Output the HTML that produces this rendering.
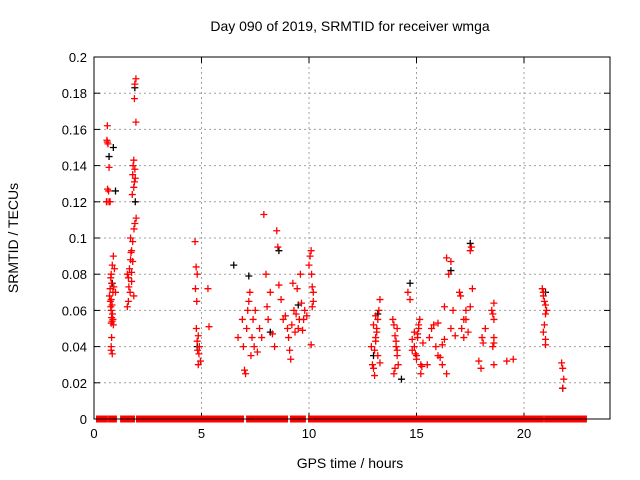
<!DOCTYPE html>
<html><head><meta charset="utf-8"><style>
body{margin:0;background:#fff}
svg{display:block;font-family:"Liberation Sans",sans-serif}
</style></head><body>
<svg id="chart" width="640" height="480" viewBox="0 0 640 480">
<text x="350" y="31" font-size="14" text-anchor="middle">Day 090 of 2019, SRMTID for receiver wmga</text>
<text transform="translate(18,238) rotate(-90)" font-size="14" text-anchor="middle">SRMTID / TECUs</text>
<text x="350" y="468" font-size="14" text-anchor="middle">GPS time / hours</text>
<g id="grid"></g><g id="axes"></g><g id="marks"></g>
<rect x="94" y="57" width="516" height="362" fill="none" stroke="#000" stroke-width="1"/>
</svg>
<script>
const xTicks=[0,5,10,15,20];
const yTicks=[0,0.02,0.04,0.06,0.08,0.1,0.12,0.14,0.16,0.18,0.2];
const yTickLabels=["0","0.02","0.04","0.06","0.08","0.1","0.12","0.14","0.16","0.18","0.2"];
const zeroSegments=[[0.14,0.6],[0.7,1.02],[1.26,1.86],[2.0,6.93],[7.12,8.98],[9.16,9.4],[9.49,9.81],[10.0,13.12],[13.16,13.21],[13.26,13.35],[13.4,13.72],[13.77,13.86],[13.9,14.93],[15.02,15.07],[15.16,15.63],[15.72,16.56],[16.6,17.21],[17.3,18.56],[18.65,19.16],[19.2,20.88],[20.98,22.88]];
const redHours=[0.62,0.6,0.65,0.7,0.63,0.68,0.6,0.75,0.58,0.62,0.9,0.85,0.8,0.78,0.82,0.75,0.88,0.72,0.8,0.76,0.84,0.78,0.8,0.86,0.82,0.88,0.84,0.8,0.9,0.82,0.8,0.8,0.85,0.95,1.0,0.92,0.7,
1.95,1.9,1.88,1.95,1.85,1.82,1.9,1.8,1.92,1.88,1.85,1.78,1.96,1.9,1.86,1.7,1.8,1.75,1.72,1.7,1.8,1.65,1.75,1.55,1.6,1.75,1.62,1.68,1.85,1.6,1.55,
4.7,4.75,4.8,4.72,4.78,4.76,4.85,4.8,4.9,4.82,4.88,4.95,4.85,5.3,5.35,
6.7,6.9,6.95,7.0,7.05,7.1,7.15,7.2,7.25,7.3,7.35,7.4,7.45,7.5,7.6,7.7,7.8,7.9,8.0,8.05,8.1,8.2,8.3,8.4,8.5,8.55,8.6,8.7,8.8,8.9,9.0,9.05,9.1,9.15,9.2,9.25,9.3,9.35,9.4,9.45,9.5,9.55,9.6,9.65,9.7,9.75,9.8,9.9,10.0,10.05,10.1,10.12,10.15,10.2,10.1,10.15,10.2,
12.9,12.95,13.0,13.05,13.1,13.15,13.2,13.25,13.3,13.0,13.1,13.2,13.15,13.1,13.05,13.3,
13.9,13.95,14.0,14.05,14.1,14.15,14.0,14.1,14.05,13.95,14.1,
14.6,14.7,14.8,14.9,14.95,15.0,15.05,15.1,15.15,15.2,15.25,15.3,14.9,15.0,15.1,15.2,14.8,15.05,
15.5,15.6,15.7,15.8,15.9,16.0,16.1,16.2,16.3,16.4,16.5,16.6,16.7,16.8,16.0,16.2,16.4,16.6,16.3,
17.0,17.05,17.1,17.2,17.3,17.4,17.5,17.55,17.6,17.2,17.3,17.5,
17.9,18.0,18.05,18.1,18.2,18.5,18.55,18.6,18.6,18.55,18.6,18.6,18.6,19.2,19.5,
20.85,20.9,20.95,21.0,21.05,21.0,20.95,20.9,21.0,21.0,20.9,
21.75,21.8,21.85,21.8];
const redValues=[0.162,0.154,0.152,0.139,0.127,0.126,0.12,0.12,0.12,0.153,0.09,0.085,0.08,0.078,0.075,0.072,0.07,0.068,0.066,0.065,0.063,0.062,0.06,0.058,0.056,0.055,0.054,0.053,0.052,0.045,0.04,0.038,0.036,0.083,0.07,0.073,0.12,
0.188,0.185,0.177,0.164,0.143,0.14,0.138,0.135,0.133,0.131,0.128,0.124,0.111,0.108,0.105,0.1,0.098,0.093,0.092,0.088,0.087,0.083,0.081,0.08,0.078,0.076,0.073,0.07,0.068,0.065,0.062,
0.098,0.084,0.08,0.072,0.065,0.05,0.046,0.043,0.04,0.038,0.036,0.032,0.03,0.072,0.051,
0.045,0.055,0.04,0.027,0.025,0.05,0.06,0.065,0.07,0.035,0.045,0.055,0.04,0.06,0.037,0.05,0.045,0.113,0.08,0.062,0.055,0.07,0.047,0.04,0.104,0.095,0.074,0.066,0.055,0.057,0.05,0.045,0.038,0.033,0.052,0.075,0.06,0.048,0.058,0.072,0.05,0.055,0.08,0.064,0.049,0.055,0.06,0.057,0.085,0.09,0.093,0.08,0.062,0.07,0.041,0.073,0.065,
0.04,0.03,0.028,0.024,0.045,0.05,0.055,0.06,0.066,0.052,0.043,0.035,0.048,0.057,0.038,0.031,
0.055,0.052,0.046,0.04,0.035,0.03,0.028,0.05,0.043,0.025,0.038,
0.07,0.066,0.044,0.04,0.036,0.033,0.045,0.05,0.055,0.03,0.029,0.042,0.048,0.035,0.052,0.025,0.038,0.047,
0.03,0.045,0.05,0.052,0.04,0.035,0.034,0.03,0.062,0.089,0.08,0.087,0.06,0.046,0.053,0.041,0.025,0.05,0.044,
0.07,0.068,0.05,0.055,0.06,0.048,0.093,0.095,0.072,0.045,0.055,0.062,
0.032,0.028,0.045,0.042,0.05,0.06,0.058,0.064,0.055,0.04,0.045,0.03,0.042,0.032,0.033,
0.072,0.07,0.065,0.063,0.06,0.058,0.052,0.048,0.044,0.041,0.068,
0.031,0.028,0.022,0.017];
const blackHours=[0.7,0.9,1.0,1.9,1.92,0.85,6.5,7.2,8.2,8.6,9.5,13.2,14.3,14.7,16.6,17.5,21.8,21.0,4.8,13.0];
const blackValues=[0.145,0.15,0.126,0.183,0.12,0.075,0.085,0.079,0.048,0.093,0.063,0.058,0.022,0.075,0.082,0.097,0.017,0.07,0.04,0.035];

const NS='http://www.w3.org/2000/svg';
const X0=94,X1=610,Y0=419,Y1=57,XMAX=24,YMAX=0.2;
function sx(h){return X0+h/XMAX*(X1-X0);}
function sy(v){return Y0-v/YMAX*(Y0-Y1);}
function mk(tag,attrs,parent){const e=document.createElementNS(NS,tag);for(const k in attrs)e.setAttribute(k,attrs[k]);parent.appendChild(e);return e;}
const grid=document.getElementById('grid'),axes=document.getElementById('axes'),marks=document.getElementById('marks');
xTicks.forEach(t=>{
 const x=sx(t);
 if(t>0){const g=mk('line',{x1:x,x2:x,y1:Y1,y2:Y0,stroke:'#a0a0a0','stroke-dasharray':'2,3'},grid);
 
 }
 mk('line',{x1:x,x2:x,y1:Y0,y2:Y0-6,stroke:'#000'},axes);
 mk('line',{x1:x,x2:x,y1:Y1,y2:Y1+6,stroke:'#000'},axes);
 const l=mk('text',{x:x,y:Y0+19,'font-size':13,'text-anchor':'middle'},axes);l.textContent=t;
 
 
});
yTicks.forEach((t,i)=>{
 const y=sy(t);
 if(t>0&&t<YMAX){const g=mk('line',{x1:X0,x2:X1,y1:y,y2:y,stroke:'#a0a0a0','stroke-dasharray':'2,3'},grid);
 
 }
 mk('line',{x1:X0,x2:X0+6,y1:y,y2:y,stroke:'#000'},axes);
 mk('line',{x1:X1,x2:X1-6,y1:y,y2:y,stroke:'#000'},axes);
 const l=mk('text',{x:X0-7,y:y+5,'font-size':13,'text-anchor':'end'},axes);l.textContent=yTickLabels[i];
 
 
});
zeroSegments.forEach(s=>{
 const r=mk('rect',{x:sx(s[0])-1,y:sy(0)-3.5,width:sx(s[1])-sx(s[0])+2,height:7,fill:'#ff0000'},marks);
 
 
});
function plus(h,v,c,name){
 const x=sx(h),y=sy(v);
 const p=mk('path',{d:`M${x-3.5},${y}h7M${x},${y-3.5}v7`,stroke:c,'stroke-width':1.3,fill:'none'},marks);
 
 
}
blackHours.forEach((h,i)=>plus(h,blackValues[i],'#000','black-point'));
redHours.forEach((h,i)=>plus(h,redValues[i],'#ff0000','srmtid-point'));
</script>
</body></html>
